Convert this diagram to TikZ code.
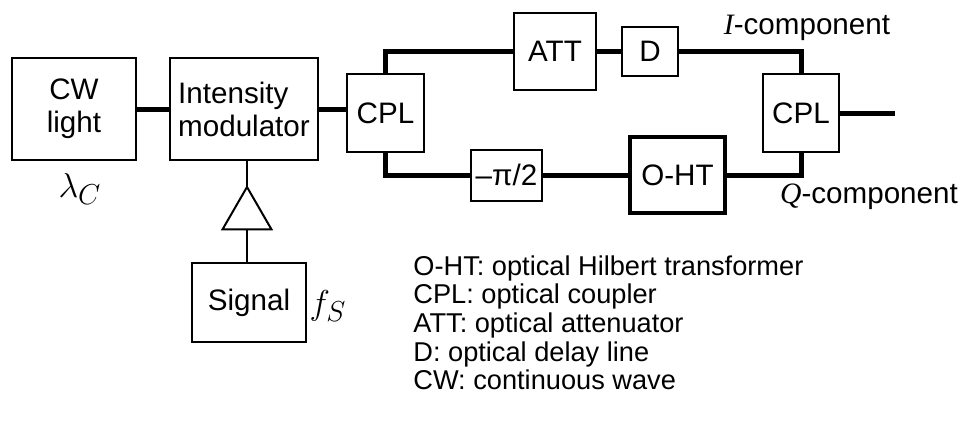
\documentclass[tikz,border=0pt]{standalone}
\usepackage{fontspec}
\setmainfont{Liberation Sans}
\newfontfamily\timesf{Liberation Serif}
\usetikzlibrary{shapes.geometric,calc}
\tikzset{
blk/.style args = {#1/#2}{
            draw, line width=1pt, inner sep=0pt, outer sep=0pt,
            minimum width=#1, minimum height=#2,
            align=center, font=\fontsize{14.8}{16.5}\selectfont},
fiber/.style = {line width=2.5pt},
wire/.style = {line width=1pt}
}
\begin{document}
\begin{tikzpicture}[x=0.5pt,y=-0.5pt]
  \useasboundingbox (0,0) rectangle (963,423);
  % transmitter side
  \node[blk=62pt/51pt] (cw) at (74,109) {CW\\light};
  \node[blk=74pt/51pt,align=left] (im) at (244,109) {Intensity\\modulator};
  \node[draw,wire,regular polygon,regular polygon sides=3,
        minimum size=28.3pt,inner sep=0pt,outer sep=0pt] (amp) at (247,215.3) {};
  \node[blk=57pt/39.5pt] (sig) at (249,302.5) {Signal};
  \node[font=\fontsize{19}{19}\selectfont] (lamC) at (80,189) {$\lambda_C$};
  \node[font=\fontsize{19}{19}\selectfont] (fS) at (328,306) {$f_S$};

  % interferometer
  \node[blk=38.5pt/39pt] (cplA) at (385.5,113) {CPL};
  \node[blk=41pt/38.5pt] (att) at (555,51.5) {ATT};
  \node[blk=28pt/24.5pt] (dly) at (650,51.5) {D};
  \node[blk=35.5pt/25.5pt] (phs) at (506.5,175) {\textendash π/2};
  \node[blk=47.5pt/38pt,line width=2pt] (oht) at (677.5,175) {O-HT};
  \node[blk=38pt/39pt] (cplB) at (801,113) {CPL};
  \coordinate (out) at (895,113);

  \node[font=\fontsize{14.8}{14.8}\selectfont] (icomp) at (807,28)
    {{\timesf\itshape I}-component};
  \node[font=\fontsize{14.8}{14.8}\selectfont] (qcomp) at (869,197)
    {{\timesf\itshape Q}-component};

  % fibres
  \draw[fiber] (cw.east) -- (im.west);
  \draw[fiber] (im.east) -- (im.east -| cplA.west);
  \draw[fiber] (cplA.north) |- (att.west);
  \draw[fiber] (att.east) -- (dly.west);
  \draw[fiber] (dly.east) -| (cplB.north);
  \draw[fiber] (cplA.south) |- (phs.west);
  \draw[fiber] (phs.east) -- (oht.west);
  \draw[fiber] (oht.east) -| (cplB.south);
  \draw[fiber] (cplB.east) -- (out);
  % electrical
  \draw[wire] (amp.corner 1 |- im.south) -- (amp.corner 1);
  \draw[wire] (amp.side 2) -- (amp.side 2 |- sig.north);

  % legend
  \node[anchor=north west,align=left,inner sep=0pt,
        font=\fontsize{13.6}{14.35}\selectfont] (lgd) at (413,255)
    {O-HT: optical Hilbert transformer\\
     CPL: optical coupler\\
     ATT: optical attenuator\\
     D: optical delay line\\
     CW: continuous wave};
\end{tikzpicture}
\end{document}
